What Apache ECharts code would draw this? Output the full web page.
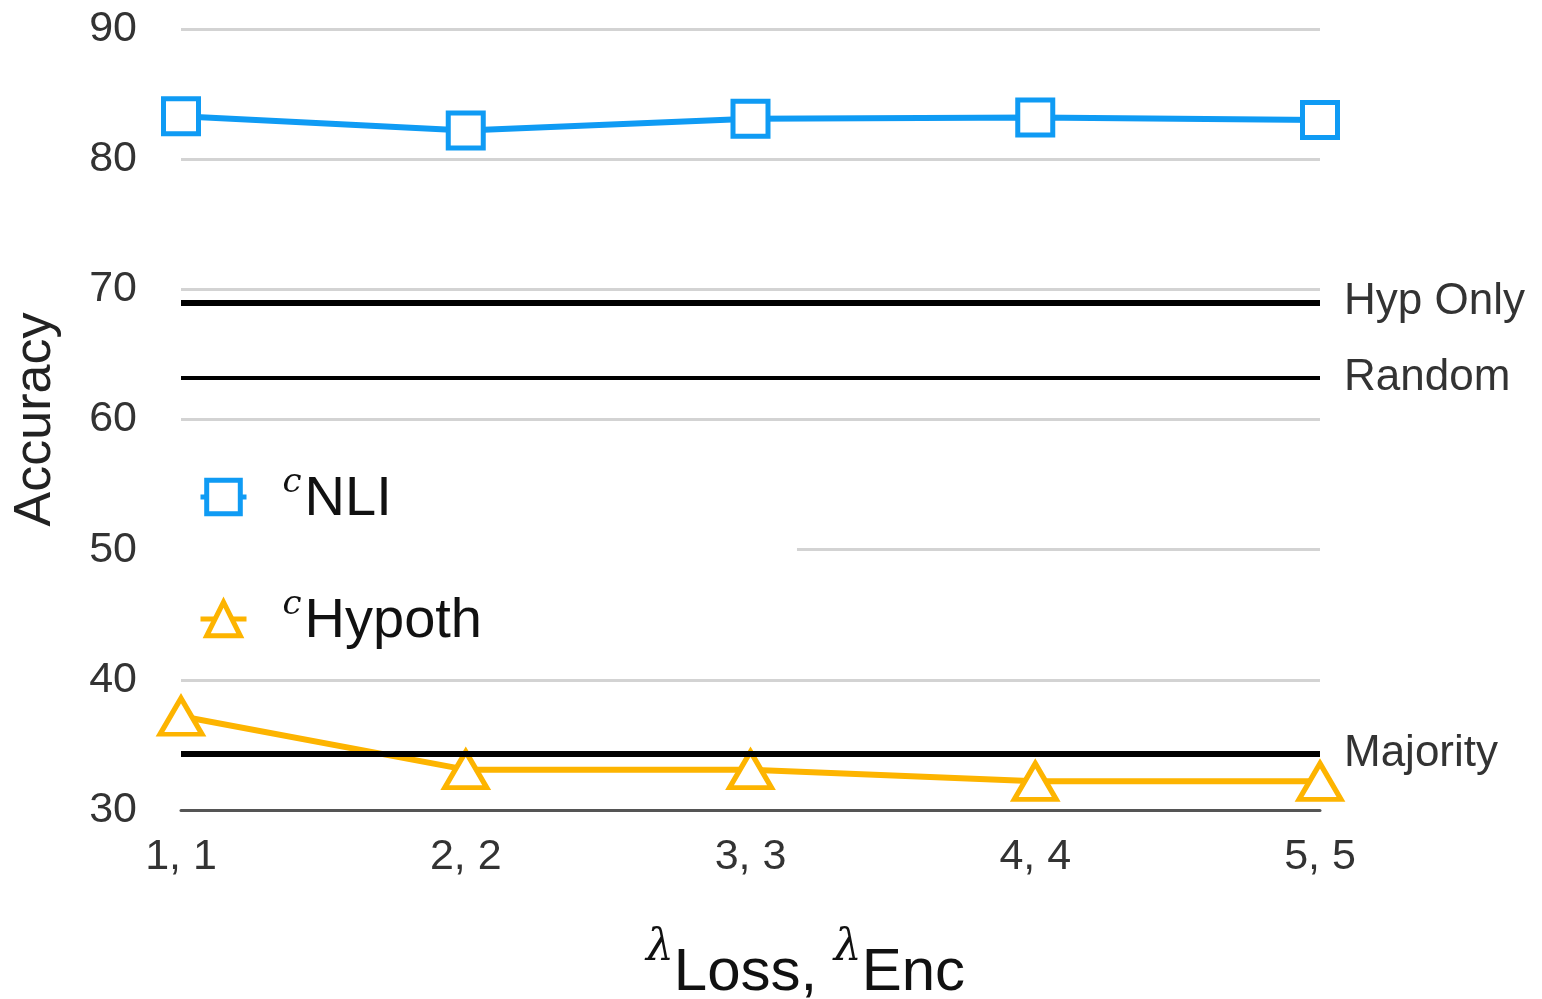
<!DOCTYPE html>
<html><head><meta charset="utf-8">
<script src="https://cdn.jsdelivr.net/npm/echarts@6/dist/echarts.min.js"></script>
<style>html,body{margin:0;padding:0;background:#fff}#c{width:1542px;height:999px}</style>
</head><body><div id="c"></div>
<script>
const categories = ['1, 1', '2, 2', '3, 3', '4, 4', '5, 5'];
const seriesNames = ['cNLI', 'cHypoth'];
const nliValues = [83.3, 82.2, 83.1, 83.2, 83.0];
const hypothValues = [37.2, 33.1, 33.1, 32.2, 32.2];
const refNames = ['Hyp Only', 'Random', 'Majority'];
const refValues = [69.0, 63.2, 34.3];
const yTicks = [30, 40, 50, 60, 70, 80, 90];

const BLUE = '#0f9bf4', ORANGE = '#fdb400';
const FONT = '"Liberation Sans", Arial, Helvetica, sans-serif';
const SERIF = '"DejaVu Serif", "Liberation Serif", serif';
const chart = echarts.init(document.getElementById('c'));
chart.setOption({
  animation: false,
  backgroundColor: '#fff',
  textStyle: { fontFamily: FONT },
  grid: { left: 181, right: 222, top: 29, bottom: 189, containLabel: false, outerBoundsMode: 'none' },
  legend: {
    left: 168, top: 452, orient: 'vertical', itemGap: 60,
    itemWidth: 46, itemHeight: 42,
    backgroundColor: '#fff', padding: [14, 315, 14, 30],
    data: seriesNames,
    itemStyle: { borderWidth: 5 },
    lineStyle: { width: 5 },
    formatter: n => '{c|' + n.charAt(0) + '}{t|' + n.slice(1) + '}',
    textStyle: {
      rich: {
        c: { fontFamily: SERIF, fontStyle: 'italic', fontSize: 34, color: '#111', verticalAlign: 'top', lineHeight: 62, padding: [0, 3, 0, 31] },
        t: { fontFamily: FONT, fontSize: 56, color: '#111', lineHeight: 62, verticalAlign: 'bottom' }
      }
    }
  },
  xAxis: {
    type: 'category', data: categories, boundaryGap: false,
    axisLine: { show: true, lineStyle: { color: '#555', width: 3 } },
    axisTick: { show: false },
    axisLabel: { fontSize: 43, color: '#333', margin: 26, fontFamily: FONT },
    splitLine: { show: false },
    name: '{l|λ}{t|Loss, }{l|λ}{t|Enc}', nameLocation: 'middle', nameGap: 117,
    nameTextStyle: {
      padding: [0, 0, 0, 110],
      rich: {
        l: { fontFamily: SERIF, fontStyle: 'italic', fontSize: 44, color: '#111', verticalAlign: 'top', lineHeight: 76 },
        t: { fontFamily: FONT, fontSize: 60, color: '#111', verticalAlign: 'bottom', lineHeight: 76 }
      }
    }
  },
  yAxis: {
    type: 'value', min: yTicks[0], max: yTicks[yTicks.length - 1], interval: 10,
    axisLine: { show: false }, axisTick: { show: false },
    axisLabel: { fontSize: 43, color: '#333', margin: 44, fontFamily: FONT },
    splitLine: { lineStyle: { color: '#d3d3d3', width: 3 } },
    name: 'Accuracy', nameLocation: 'middle', nameGap: 119,
    nameTextStyle: { fontSize: 52, color: '#222', fontFamily: FONT }
  },
  series: [
    {
      name: 'refs', type: 'line', data: [], z: 1, silent: true,
      markLine: {
        silent: true, symbol: 'none', animation: false,
        data: refNames.map((n, i) => ({
          name: n, yAxis: refValues[i],
          lineStyle: { color: '#000', width: i === 1 ? 4 : 6, type: 'solid' }
        })),
        label: { show: true, position: 'end', distance: 24, formatter: p => p.name, fontSize: 44, color: '#333', fontFamily: FONT }
      }
    },
    {
      name: seriesNames[0], type: 'line', data: nliValues, z: 3,
      symbol: 'rect', symbolSize: 35,
      lineStyle: { color: BLUE, width: 6 },
      itemStyle: { color: '#fff', borderColor: BLUE, borderWidth: 5 }
    },
    {
      name: seriesNames[1], type: 'line', data: hypothValues, z: 3,
      symbol: 'triangle', symbolSize: [42, 36],
      lineStyle: { color: ORANGE, width: 6 },
      itemStyle: { color: '#fff', borderColor: ORANGE, borderWidth: 5 }
    }
  ]
});
</script></body></html>
